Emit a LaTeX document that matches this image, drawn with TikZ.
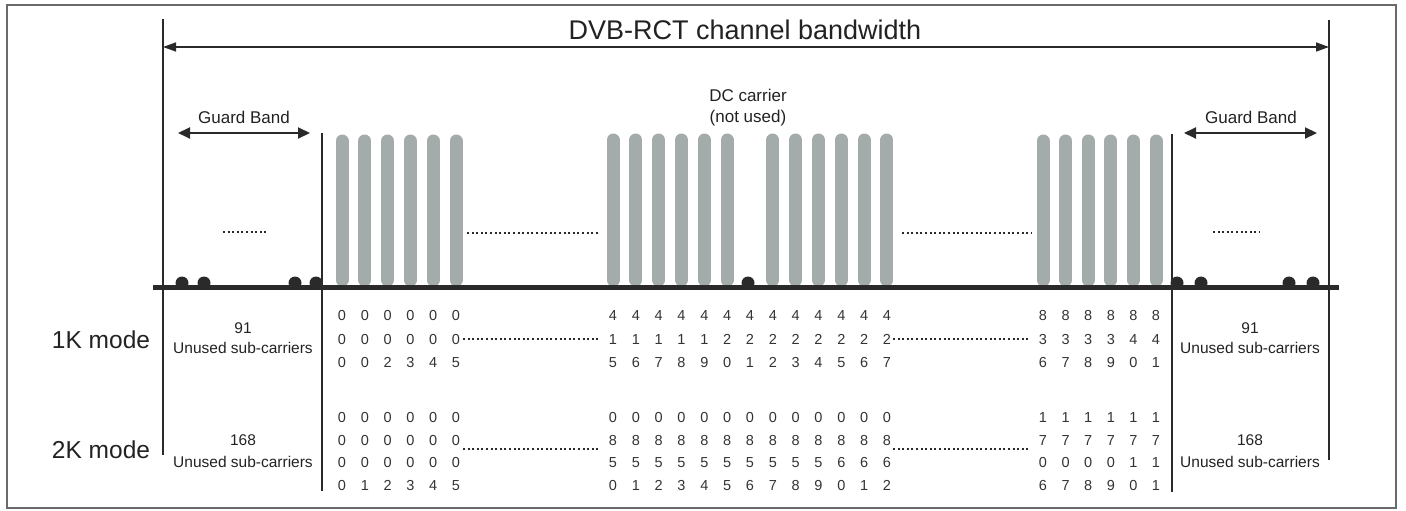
\documentclass[tikz,border=0pt]{standalone}
\usepackage{fontspec}
\setmainfont{Liberation Sans}
\usetikzlibrary{arrows.meta}
\definecolor{linecol}{HTML}{2A2A2A}
\definecolor{barcol}{HTML}{A4ABAB}
\definecolor{framecol}{HTML}{6A6A6A}
\definecolor{txtcol}{HTML}{222222}
\definecolor{digcol}{HTML}{333333}
\newcommand\digrow[5]{%
  \foreach \d [count=\i from 0] in {#4}
    \node[dig] (#5-\i) at ({#1+#2*\i},#3) {\d};}
\begin{document}
\begin{tikzpicture}[x=1pt,y=-1pt,
  framebox/.style={draw=framecol, line width=1.6pt},
  vline/.style={draw=linecol, line width=2.8pt},
  baseline/.style={draw=linecol, line width=5pt},
  bar/.style={draw=barcol, line width=13pt, line cap=round},
  dotline/.style={draw=linecol, line width=2pt, dash pattern=on 2pt off 2.6pt},
  bump/.style={fill=linecol},
  dimarrow/.style={draw=linecol, line width=1.6pt, {Triangle[length=13pt,width=9pt]}-{Triangle[length=13pt,width=9pt]}},
  guardarrow/.style={draw=linecol, line width=2pt, {Triangle[length=12pt,width=11pt]}-{Triangle[length=12pt,width=11pt]}},
  lbl/.style={inner sep=0pt, text=txtcol, anchor=base},
  dig/.style={inner sep=0pt, text=digcol, anchor=base, font=\fontsize{14.5}{16}\selectfont},
]
\useasboundingbox (0,0) rectangle (1406,511);
\draw[framebox] (7,5) rectangle (1396,508);

% coordinates of line ends
\coordinate (oLt) at (163,19);  \coordinate (oLb) at (163,455);
\coordinate (oRt) at (1329,20); \coordinate (oRb) at (1329,460);
\coordinate (iLt) at (322,133); \coordinate (iLb) at (322,491);
\coordinate (iRt) at (1172,134);\coordinate (iRb) at (1172,492);
\coordinate (tA) at (163,47);   \coordinate (tB) at (1329,47);
\coordinate (gLa) at (178,133); \coordinate (gLb) at (310,133);
\coordinate (gRa) at (1184,133);\coordinate (gRb) at (1317,133);
\coordinate (bA) at (153,287);  \coordinate (bB) at (1339,287);

% bars
\foreach \i in {0,...,5} \draw[bar] ({342+22.8*\i},141) -- ({342+22.8*\i},280);
\foreach \i in {0,...,5,7,8,...,12} \draw[bar] ({613+22.83*\i},140) -- ({613+22.83*\i},280);
\foreach \i in {0,...,5} \draw[bar] ({1043+22.6*\i},141) -- ({1043+22.6*\i},280);

% bumps
\foreach \x in {182,204,295,316,748,1177,1201,1289,1313} \fill[bump] (\x,283) circle (6.5);

% lines
\draw[baseline] (bA) -- (bB);
\draw[vline] (oLt) -- (oLb);
\draw[vline] (oRt) -- (oRb);
\draw[vline] (iLt) -- (iLb);
\draw[vline] (iRt) -- (iRb);
\draw[dimarrow] (tA) -- (tB);
\draw[guardarrow] (gLa) -- (gLb);
\draw[guardarrow] (gRa) -- (gRb);

% dotted lines
\coordinate (d1a) at (223,232); \coordinate (d1b) at (268,232);
\coordinate (d2a) at (467,233); \coordinate (d2b) at (598,233);
\coordinate (d3a) at (902,233); \coordinate (d3b) at (1032,233);
\coordinate (d4a) at (1213,232);\coordinate (d4b) at (1260,232);
\coordinate (d5a) at (463,339); \coordinate (d5b) at (598,339);
\coordinate (d6a) at (893,339); \coordinate (d6b) at (1030,339);
\coordinate (d7a) at (463,449); \coordinate (d7b) at (598,449);
\coordinate (d8a) at (893,449); \coordinate (d8b) at (1030,449);
\foreach \n in {1,...,8} \draw[dotline] (d\n a) -- (d\n b);

% texts
\node[lbl, font=\fontsize{27}{32}\selectfont] (title) at (745,40) {DVB-RCT channel bandwidth};
\node[lbl, font=\fontsize{17}{20}\selectfont] (gbL) at (244,123) {Guard Band};
\node[lbl, font=\fontsize{17}{20}\selectfont] (gbR) at (1251,123) {Guard Band};
\node[lbl, font=\fontsize{17}{20}\selectfont] (dc1) at (748,102) {DC carrier};
\node[lbl, font=\fontsize{17}{20}\selectfont] (dc2) at (748,122) {(not used)};
\node[lbl, font=\fontsize{24.5}{28}\selectfont] (m1) at (101,348) {1K mode};
\node[lbl, font=\fontsize{24.5}{28}\selectfont] (m2) at (101,458) {2K mode};
\node[lbl, font=\fontsize{15.5}{18}\selectfont] (uL1a) at (243,333) {91};
\node[lbl, font=\fontsize{15.5}{18}\selectfont] (uL1b) at (243,353) {Unused sub-carriers};
\node[lbl, font=\fontsize{15.5}{18}\selectfont] (uL2a) at (243,445) {168};
\node[lbl, font=\fontsize{15.5}{18}\selectfont] (uL2b) at (243,467) {Unused sub-carriers};
\node[lbl, font=\fontsize{15.5}{18}\selectfont] (uR1a) at (1250,333) {91};
\node[lbl, font=\fontsize{15.5}{18}\selectfont] (uR1b) at (1250,353) {Unused sub-carriers};
\node[lbl, font=\fontsize{15.5}{18}\selectfont] (uR2a) at (1250,445) {168};
\node[lbl, font=\fontsize{15.5}{18}\selectfont] (uR2b) at (1250,467) {Unused sub-carriers};

% 1K mode digits
\digrow{342}{22.8}{320.5}{0,0,0,0,0,0}{kA1}
\digrow{342}{22.8}{344}{0,0,0,0,0,0}{kA2}
\digrow{342}{22.8}{367}{0,0,2,3,4,5}{kA3}
\digrow{613}{22.83}{320.5}{4,4,4,4,4,4,4,4,4,4,4,4,4}{kB1}
\digrow{613}{22.83}{344}{1,1,1,1,1,2,2,2,2,2,2,2,2}{kB2}
\digrow{613}{22.83}{367}{5,6,7,8,9,0,1,2,3,4,5,6,7}{kB3}
\digrow{1043}{22.6}{320.5}{8,8,8,8,8,8}{kC1}
\digrow{1043}{22.6}{344}{3,3,3,3,4,4}{kC2}
\digrow{1043}{22.6}{367}{6,7,8,9,0,1}{kC3}
% 2K mode digits
\digrow{342}{22.8}{422}{0,0,0,0,0,0}{tA1}
\digrow{342}{22.8}{445.5}{0,0,0,0,0,0}{tA2}
\digrow{342}{22.8}{467.5}{0,0,0,0,0,0}{tA3}
\digrow{342}{22.8}{490.5}{0,1,2,3,4,5}{tA4}
\digrow{613}{22.83}{422}{0,0,0,0,0,0,0,0,0,0,0,0,0}{tB1}
\digrow{613}{22.83}{445.5}{8,8,8,8,8,8,8,8,8,8,8,8,8}{tB2}
\digrow{613}{22.83}{467.5}{5,5,5,5,5,5,5,5,5,5,6,6,6}{tB3}
\digrow{613}{22.83}{490.5}{0,1,2,3,4,5,6,7,8,9,0,1,2}{tB4}
\digrow{1043}{22.6}{422}{1,1,1,1,1,1}{tC1}
\digrow{1043}{22.6}{445.5}{7,7,7,7,7,7}{tC2}
\digrow{1043}{22.6}{467.5}{0,0,0,0,1,1}{tC3}
\digrow{1043}{22.6}{490.5}{6,7,8,9,0,1}{tC4}
\end{tikzpicture}
\end{document}
